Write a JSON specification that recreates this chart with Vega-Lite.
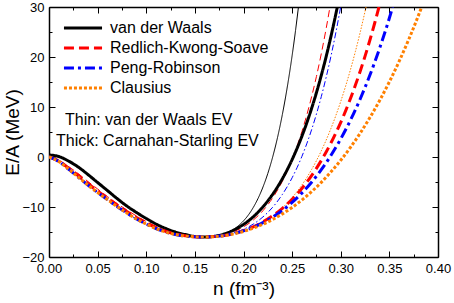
{
  "$schema": "https://vega.github.io/schema/vega-lite/v6.json",
  "width": 389,
  "height": 250,
  "autosize": "none",
  "padding": {"left": 49, "top": 7, "right": 16, "bottom": 46},
  "background": "white",
  "config": {
    "view": {"stroke": null},
    "font": "Liberation Sans",
    "axis": {
      "grid": false,
      "domainColor": "#000000",
      "domainWidth": 1.5,
      "tickColor": "#000000",
      "tickWidth": 1,
      "labelFont": "Liberation Sans",
      "labelFontSize": 13,
      "labelColor": "#000000",
      "labelFlush": false,
      "titleFont": "Liberation Sans",
      "titleFontSize": 19,
      "titleFontWeight": "normal",
      "titleColor": "#000000"
    }
  },
  "datasets": {
    "thick": [
      {"curve":"van der Waals","n":0,"E":0.4},{"curve":"van der Waals","n":0.01,"E":0.1},{"curve":"van der Waals","n":0.02,"E":-0.8},{"curve":"van der Waals","n":0.03,"E":-2.0},{"curve":"van der Waals","n":0.04,"E":-3.5},{"curve":"van der Waals","n":0.05,"E":-5.1},{"curve":"van der Waals","n":0.06,"E":-6.7},{"curve":"van der Waals","n":0.07,"E":-8.3},{"curve":"van der Waals","n":0.08,"E":-9.8},{"curve":"van der Waals","n":0.09,"E":-11.1},{"curve":"van der Waals","n":0.10,"E":-12.3},{"curve":"van der Waals","n":0.11,"E":-13.4},{"curve":"van der Waals","n":0.12,"E":-14.3},{"curve":"van der Waals","n":0.13,"E":-15.0},{"curve":"van der Waals","n":0.14,"E":-15.5},{"curve":"van der Waals","n":0.15,"E":-15.9},{"curve":"van der Waals","n":0.16,"E":-16.0},
      {"curve":"van der Waals","n":0.17,"E":-15.85},{"curve":"van der Waals","n":0.18,"E":-15.4},{"curve":"van der Waals","n":0.19,"E":-14.62},{"curve":"van der Waals","n":0.20,"E":-13.49},{"curve":"van der Waals","n":0.21,"E":-11.96},{"curve":"van der Waals","n":0.22,"E":-9.97},{"curve":"van der Waals","n":0.23,"E":-7.46},{"curve":"van der Waals","n":0.24,"E":-4.34},{"curve":"van der Waals","n":0.245,"E":-2.52},{"curve":"van der Waals","n":0.25,"E":-0.51},{"curve":"van der Waals","n":0.255,"E":1.7},{"curve":"van der Waals","n":0.26,"E":4.13},{"curve":"van der Waals","n":0.265,"E":6.79},{"curve":"van der Waals","n":0.27,"E":9.7},{"curve":"van der Waals","n":0.275,"E":12.87},{"curve":"van der Waals","n":0.28,"E":16.33},{"curve":"van der Waals","n":0.285,"E":20.09},{"curve":"van der Waals","n":0.29,"E":24.18},{"curve":"van der Waals","n":0.2965,"E":30},

      {"curve":"Redlich-Kwong-Soave","n":0,"E":0},{"curve":"Redlich-Kwong-Soave","n":0.01,"E":-0.8},{"curve":"Redlich-Kwong-Soave","n":0.02,"E":-2.2},{"curve":"Redlich-Kwong-Soave","n":0.03,"E":-3.7},{"curve":"Redlich-Kwong-Soave","n":0.04,"E":-5.3},{"curve":"Redlich-Kwong-Soave","n":0.05,"E":-6.8},{"curve":"Redlich-Kwong-Soave","n":0.06,"E":-8.2},{"curve":"Redlich-Kwong-Soave","n":0.07,"E":-9.6},{"curve":"Redlich-Kwong-Soave","n":0.08,"E":-10.9},{"curve":"Redlich-Kwong-Soave","n":0.09,"E":-12.1},{"curve":"Redlich-Kwong-Soave","n":0.10,"E":-13.2},{"curve":"Redlich-Kwong-Soave","n":0.11,"E":-14.1},{"curve":"Redlich-Kwong-Soave","n":0.12,"E":-14.85},{"curve":"Redlich-Kwong-Soave","n":0.13,"E":-15.4},{"curve":"Redlich-Kwong-Soave","n":0.14,"E":-15.75},{"curve":"Redlich-Kwong-Soave","n":0.15,"E":-15.95},{"curve":"Redlich-Kwong-Soave","n":0.16,"E":-16.0},
      {"curve":"Redlich-Kwong-Soave","n":0.17,"E":-15.92},{"curve":"Redlich-Kwong-Soave","n":0.18,"E":-15.69},{"curve":"Redlich-Kwong-Soave","n":0.19,"E":-15.3},{"curve":"Redlich-Kwong-Soave","n":0.20,"E":-14.72},{"curve":"Redlich-Kwong-Soave","n":0.21,"E":-13.96},{"curve":"Redlich-Kwong-Soave","n":0.22,"E":-12.98},{"curve":"Redlich-Kwong-Soave","n":0.23,"E":-11.76},{"curve":"Redlich-Kwong-Soave","n":0.24,"E":-10.26},{"curve":"Redlich-Kwong-Soave","n":0.25,"E":-8.45},{"curve":"Redlich-Kwong-Soave","n":0.26,"E":-6.29},{"curve":"Redlich-Kwong-Soave","n":0.27,"E":-3.72},{"curve":"Redlich-Kwong-Soave","n":0.275,"E":-2.27},{"curve":"Redlich-Kwong-Soave","n":0.28,"E":-0.7},{"curve":"Redlich-Kwong-Soave","n":0.285,"E":1.0},{"curve":"Redlich-Kwong-Soave","n":0.29,"E":2.84},{"curve":"Redlich-Kwong-Soave","n":0.295,"E":4.81},{"curve":"Redlich-Kwong-Soave","n":0.30,"E":6.94},{"curve":"Redlich-Kwong-Soave","n":0.305,"E":9.23},{"curve":"Redlich-Kwong-Soave","n":0.31,"E":11.69},{"curve":"Redlich-Kwong-Soave","n":0.315,"E":14.33},{"curve":"Redlich-Kwong-Soave","n":0.32,"E":17.15},{"curve":"Redlich-Kwong-Soave","n":0.325,"E":20.18},{"curve":"Redlich-Kwong-Soave","n":0.33,"E":23.4},{"curve":"Redlich-Kwong-Soave","n":0.335,"E":26.85},{"curve":"Redlich-Kwong-Soave","n":0.3393,"E":30},

      {"curve":"Peng-Robinson","n":0,"E":0},{"curve":"Peng-Robinson","n":0.01,"E":-0.9},{"curve":"Peng-Robinson","n":0.02,"E":-2.4},{"curve":"Peng-Robinson","n":0.03,"E":-4.0},{"curve":"Peng-Robinson","n":0.04,"E":-5.6},{"curve":"Peng-Robinson","n":0.05,"E":-7.1},{"curve":"Peng-Robinson","n":0.06,"E":-8.5},{"curve":"Peng-Robinson","n":0.07,"E":-9.9},{"curve":"Peng-Robinson","n":0.08,"E":-11.2},{"curve":"Peng-Robinson","n":0.09,"E":-12.4},{"curve":"Peng-Robinson","n":0.10,"E":-13.4},{"curve":"Peng-Robinson","n":0.11,"E":-14.3},{"curve":"Peng-Robinson","n":0.12,"E":-15.0},{"curve":"Peng-Robinson","n":0.13,"E":-15.5},{"curve":"Peng-Robinson","n":0.14,"E":-15.8},{"curve":"Peng-Robinson","n":0.15,"E":-15.95},{"curve":"Peng-Robinson","n":0.16,"E":-16.0},
      {"curve":"Peng-Robinson","n":0.17,"E":-15.92},{"curve":"Peng-Robinson","n":0.18,"E":-15.7},{"curve":"Peng-Robinson","n":0.19,"E":-15.31},{"curve":"Peng-Robinson","n":0.20,"E":-14.77},{"curve":"Peng-Robinson","n":0.21,"E":-14.05},{"curve":"Peng-Robinson","n":0.22,"E":-13.13},{"curve":"Peng-Robinson","n":0.23,"E":-12.02},{"curve":"Peng-Robinson","n":0.24,"E":-10.68},{"curve":"Peng-Robinson","n":0.25,"E":-9.09},{"curve":"Peng-Robinson","n":0.26,"E":-7.22},{"curve":"Peng-Robinson","n":0.27,"E":-5.05},{"curve":"Peng-Robinson","n":0.28,"E":-2.54},{"curve":"Peng-Robinson","n":0.285,"E":-1.15},{"curve":"Peng-Robinson","n":0.29,"E":0.34},{"curve":"Peng-Robinson","n":0.295,"E":1.93},{"curve":"Peng-Robinson","n":0.30,"E":3.63},{"curve":"Peng-Robinson","n":0.305,"E":5.44},{"curve":"Peng-Robinson","n":0.31,"E":7.37},{"curve":"Peng-Robinson","n":0.315,"E":9.42},{"curve":"Peng-Robinson","n":0.32,"E":11.6},{"curve":"Peng-Robinson","n":0.325,"E":13.93},{"curve":"Peng-Robinson","n":0.33,"E":16.39},{"curve":"Peng-Robinson","n":0.335,"E":19.0},{"curve":"Peng-Robinson","n":0.34,"E":21.77},{"curve":"Peng-Robinson","n":0.345,"E":24.69},{"curve":"Peng-Robinson","n":0.35,"E":27.79},{"curve":"Peng-Robinson","n":0.3534,"E":30},

      {"curve":"Clausius","n":0,"E":0},{"curve":"Clausius","n":0.01,"E":-0.9},{"curve":"Clausius","n":0.02,"E":-2.4},{"curve":"Clausius","n":0.03,"E":-4.0},{"curve":"Clausius","n":0.04,"E":-5.6},{"curve":"Clausius","n":0.05,"E":-7.1},{"curve":"Clausius","n":0.06,"E":-8.5},{"curve":"Clausius","n":0.07,"E":-9.9},{"curve":"Clausius","n":0.08,"E":-11.2},{"curve":"Clausius","n":0.09,"E":-12.4},{"curve":"Clausius","n":0.10,"E":-13.4},{"curve":"Clausius","n":0.11,"E":-14.3},{"curve":"Clausius","n":0.12,"E":-15.0},{"curve":"Clausius","n":0.13,"E":-15.5},{"curve":"Clausius","n":0.14,"E":-15.8},{"curve":"Clausius","n":0.15,"E":-15.95},{"curve":"Clausius","n":0.16,"E":-16.0},
      {"curve":"Clausius","n":0.17,"E":-15.93},{"curve":"Clausius","n":0.18,"E":-15.72},{"curve":"Clausius","n":0.19,"E":-15.37},{"curve":"Clausius","n":0.20,"E":-14.88},{"curve":"Clausius","n":0.21,"E":-14.24},{"curve":"Clausius","n":0.22,"E":-13.45},{"curve":"Clausius","n":0.23,"E":-12.49},{"curve":"Clausius","n":0.24,"E":-11.38},{"curve":"Clausius","n":0.25,"E":-10.09},{"curve":"Clausius","n":0.26,"E":-8.61},{"curve":"Clausius","n":0.27,"E":-6.94},{"curve":"Clausius","n":0.28,"E":-5.07},{"curve":"Clausius","n":0.29,"E":-2.97},{"curve":"Clausius","n":0.30,"E":-0.65},{"curve":"Clausius","n":0.31,"E":1.93},{"curve":"Clausius","n":0.32,"E":4.77},{"curve":"Clausius","n":0.33,"E":7.89},{"curve":"Clausius","n":0.34,"E":11.3},{"curve":"Clausius","n":0.35,"E":15.04},{"curve":"Clausius","n":0.36,"E":19.12},{"curve":"Clausius","n":0.37,"E":23.55},{"curve":"Clausius","n":0.38,"E":28.37},{"curve":"Clausius","n":0.3832,"E":30}
    ],
    "thin": [
      {"curve":"van der Waals (thin)","n":0,"E":0.4},{"curve":"van der Waals (thin)","n":0.01,"E":0.1},{"curve":"van der Waals (thin)","n":0.02,"E":-0.8},{"curve":"van der Waals (thin)","n":0.03,"E":-2.0},{"curve":"van der Waals (thin)","n":0.04,"E":-3.5},{"curve":"van der Waals (thin)","n":0.05,"E":-5.1},{"curve":"van der Waals (thin)","n":0.06,"E":-6.7},{"curve":"van der Waals (thin)","n":0.07,"E":-8.3},{"curve":"van der Waals (thin)","n":0.08,"E":-9.8},{"curve":"van der Waals (thin)","n":0.09,"E":-11.1},{"curve":"van der Waals (thin)","n":0.10,"E":-12.3},{"curve":"van der Waals (thin)","n":0.11,"E":-13.4},{"curve":"van der Waals (thin)","n":0.12,"E":-14.3},{"curve":"van der Waals (thin)","n":0.13,"E":-15.0},{"curve":"van der Waals (thin)","n":0.14,"E":-15.5},{"curve":"van der Waals (thin)","n":0.15,"E":-15.9},{"curve":"van der Waals (thin)","n":0.16,"E":-16.0},
      {"curve":"van der Waals (thin)","n":0.17,"E":-15.86},{"curve":"van der Waals (thin)","n":0.18,"E":-15.38},{"curve":"van der Waals (thin)","n":0.19,"E":-14.43},{"curve":"van der Waals (thin)","n":0.20,"E":-12.78},{"curve":"van der Waals (thin)","n":0.205,"E":-11.6},{"curve":"van der Waals (thin)","n":0.21,"E":-10.11},{"curve":"van der Waals (thin)","n":0.215,"E":-8.27},{"curve":"van der Waals (thin)","n":0.22,"E":-6.02},{"curve":"van der Waals (thin)","n":0.225,"E":-3.29},{"curve":"van der Waals (thin)","n":0.23,"E":0.0},{"curve":"van der Waals (thin)","n":0.235,"E":3.91},{"curve":"van der Waals (thin)","n":0.24,"E":8.54},{"curve":"van der Waals (thin)","n":0.245,"E":13.97},{"curve":"van der Waals (thin)","n":0.25,"E":20.28},{"curve":"van der Waals (thin)","n":0.2535,"E":25.29},{"curve":"van der Waals (thin)","n":0.2565,"E":30},

      {"curve":"Redlich-Kwong-Soave (thin)","n":0,"E":0.1},{"curve":"Redlich-Kwong-Soave (thin)","n":0.01,"E":-0.6},{"curve":"Redlich-Kwong-Soave (thin)","n":0.02,"E":-1.9},{"curve":"Redlich-Kwong-Soave (thin)","n":0.03,"E":-3.3},{"curve":"Redlich-Kwong-Soave (thin)","n":0.04,"E":-4.9},{"curve":"Redlich-Kwong-Soave (thin)","n":0.05,"E":-6.4},{"curve":"Redlich-Kwong-Soave (thin)","n":0.06,"E":-7.9},{"curve":"Redlich-Kwong-Soave (thin)","n":0.07,"E":-9.3},{"curve":"Redlich-Kwong-Soave (thin)","n":0.08,"E":-10.6},{"curve":"Redlich-Kwong-Soave (thin)","n":0.09,"E":-11.8},{"curve":"Redlich-Kwong-Soave (thin)","n":0.10,"E":-12.9},{"curve":"Redlich-Kwong-Soave (thin)","n":0.11,"E":-13.9},{"curve":"Redlich-Kwong-Soave (thin)","n":0.12,"E":-14.7},{"curve":"Redlich-Kwong-Soave (thin)","n":0.13,"E":-15.3},{"curve":"Redlich-Kwong-Soave (thin)","n":0.14,"E":-15.7},{"curve":"Redlich-Kwong-Soave (thin)","n":0.15,"E":-15.95},{"curve":"Redlich-Kwong-Soave (thin)","n":0.16,"E":-16.0},
      {"curve":"Redlich-Kwong-Soave (thin)","n":0.17,"E":-15.89},{"curve":"Redlich-Kwong-Soave (thin)","n":0.18,"E":-15.54},{"curve":"Redlich-Kwong-Soave (thin)","n":0.19,"E":-14.93},{"curve":"Redlich-Kwong-Soave (thin)","n":0.20,"E":-13.98},{"curve":"Redlich-Kwong-Soave (thin)","n":0.21,"E":-12.62},{"curve":"Redlich-Kwong-Soave (thin)","n":0.22,"E":-10.74},{"curve":"Redlich-Kwong-Soave (thin)","n":0.23,"E":-8.19},{"curve":"Redlich-Kwong-Soave (thin)","n":0.24,"E":-4.84},{"curve":"Redlich-Kwong-Soave (thin)","n":0.245,"E":-2.81},{"curve":"Redlich-Kwong-Soave (thin)","n":0.25,"E":-0.5},{"curve":"Redlich-Kwong-Soave (thin)","n":0.255,"E":2.11},{"curve":"Redlich-Kwong-Soave (thin)","n":0.26,"E":5.05},{"curve":"Redlich-Kwong-Soave (thin)","n":0.265,"E":8.34},{"curve":"Redlich-Kwong-Soave (thin)","n":0.27,"E":12.02},{"curve":"Redlich-Kwong-Soave (thin)","n":0.275,"E":16.11},{"curve":"Redlich-Kwong-Soave (thin)","n":0.28,"E":20.67},{"curve":"Redlich-Kwong-Soave (thin)","n":0.285,"E":25.71},{"curve":"Redlich-Kwong-Soave (thin)","n":0.2889,"E":30},

      {"curve":"Peng-Robinson (thin)","n":0,"E":0},{"curve":"Peng-Robinson (thin)","n":0.01,"E":-0.9},{"curve":"Peng-Robinson (thin)","n":0.02,"E":-2.4},{"curve":"Peng-Robinson (thin)","n":0.03,"E":-4.0},{"curve":"Peng-Robinson (thin)","n":0.04,"E":-5.6},{"curve":"Peng-Robinson (thin)","n":0.05,"E":-7.1},{"curve":"Peng-Robinson (thin)","n":0.06,"E":-8.5},{"curve":"Peng-Robinson (thin)","n":0.07,"E":-9.9},{"curve":"Peng-Robinson (thin)","n":0.08,"E":-11.2},{"curve":"Peng-Robinson (thin)","n":0.09,"E":-12.4},{"curve":"Peng-Robinson (thin)","n":0.10,"E":-13.4},{"curve":"Peng-Robinson (thin)","n":0.11,"E":-14.3},{"curve":"Peng-Robinson (thin)","n":0.12,"E":-15.0},{"curve":"Peng-Robinson (thin)","n":0.13,"E":-15.5},{"curve":"Peng-Robinson (thin)","n":0.14,"E":-15.8},{"curve":"Peng-Robinson (thin)","n":0.15,"E":-15.95},{"curve":"Peng-Robinson (thin)","n":0.16,"E":-16.0},
      {"curve":"Peng-Robinson (thin)","n":0.17,"E":-15.92},{"curve":"Peng-Robinson (thin)","n":0.18,"E":-15.65},{"curve":"Peng-Robinson (thin)","n":0.19,"E":-15.19},{"curve":"Peng-Robinson (thin)","n":0.20,"E":-14.46},{"curve":"Peng-Robinson (thin)","n":0.21,"E":-13.43},{"curve":"Peng-Robinson (thin)","n":0.22,"E":-11.99},{"curve":"Peng-Robinson (thin)","n":0.23,"E":-10.05},{"curve":"Peng-Robinson (thin)","n":0.24,"E":-7.48},{"curve":"Peng-Robinson (thin)","n":0.25,"E":-4.15},{"curve":"Peng-Robinson (thin)","n":0.255,"E":-2.16},{"curve":"Peng-Robinson (thin)","n":0.26,"E":0.09},{"curve":"Peng-Robinson (thin)","n":0.265,"E":2.62},{"curve":"Peng-Robinson (thin)","n":0.27,"E":5.44},{"curve":"Peng-Robinson (thin)","n":0.275,"E":8.59},{"curve":"Peng-Robinson (thin)","n":0.28,"E":12.08},{"curve":"Peng-Robinson (thin)","n":0.285,"E":15.95},{"curve":"Peng-Robinson (thin)","n":0.29,"E":20.22},{"curve":"Peng-Robinson (thin)","n":0.295,"E":24.93},{"curve":"Peng-Robinson (thin)","n":0.2999,"E":30},

      {"curve":"Clausius (thin)","n":0,"E":0},{"curve":"Clausius (thin)","n":0.01,"E":-0.9},{"curve":"Clausius (thin)","n":0.02,"E":-2.4},{"curve":"Clausius (thin)","n":0.03,"E":-4.0},{"curve":"Clausius (thin)","n":0.04,"E":-5.6},{"curve":"Clausius (thin)","n":0.05,"E":-7.1},{"curve":"Clausius (thin)","n":0.06,"E":-8.5},{"curve":"Clausius (thin)","n":0.07,"E":-9.9},{"curve":"Clausius (thin)","n":0.08,"E":-11.2},{"curve":"Clausius (thin)","n":0.09,"E":-12.4},{"curve":"Clausius (thin)","n":0.10,"E":-13.4},{"curve":"Clausius (thin)","n":0.11,"E":-14.3},{"curve":"Clausius (thin)","n":0.12,"E":-15.0},{"curve":"Clausius (thin)","n":0.13,"E":-15.5},{"curve":"Clausius (thin)","n":0.14,"E":-15.8},{"curve":"Clausius (thin)","n":0.15,"E":-15.95},{"curve":"Clausius (thin)","n":0.16,"E":-16.0},
      {"curve":"Clausius (thin)","n":0.17,"E":-15.93},{"curve":"Clausius (thin)","n":0.18,"E":-15.72},{"curve":"Clausius (thin)","n":0.19,"E":-15.36},{"curve":"Clausius (thin)","n":0.20,"E":-14.82},{"curve":"Clausius (thin)","n":0.21,"E":-14.07},{"curve":"Clausius (thin)","n":0.22,"E":-13.09},{"curve":"Clausius (thin)","n":0.23,"E":-11.8},{"curve":"Clausius (thin)","n":0.24,"E":-10.18},{"curve":"Clausius (thin)","n":0.25,"E":-8.13},{"curve":"Clausius (thin)","n":0.26,"E":-5.61},{"curve":"Clausius (thin)","n":0.265,"E":-4.14},{"curve":"Clausius (thin)","n":0.27,"E":-2.51},{"curve":"Clausius (thin)","n":0.275,"E":-0.73},{"curve":"Clausius (thin)","n":0.28,"E":1.24},{"curve":"Clausius (thin)","n":0.285,"E":3.39},{"curve":"Clausius (thin)","n":0.29,"E":5.75},{"curve":"Clausius (thin)","n":0.295,"E":8.32},{"curve":"Clausius (thin)","n":0.30,"E":11.12},{"curve":"Clausius (thin)","n":0.305,"E":14.17},{"curve":"Clausius (thin)","n":0.31,"E":17.48},{"curve":"Clausius (thin)","n":0.315,"E":21.06},{"curve":"Clausius (thin)","n":0.32,"E":24.94},{"curve":"Clausius (thin)","n":0.326,"E":30}
    ]
  },
  "layer": [
    {
      "data": {"name": "thin"},
      "mark": {"type": "line", "strokeWidth": 1, "interpolate": "monotone", "clip": true},
      "encoding": {
        "x": {"field": "n", "type": "quantitative",
          "scale": {"domain": [0, 0.4], "nice": false},
          "axis": {"orient": "top", "title": null, "labels": false,
            "values": [0,0.025,0.05,0.075,0.1,0.125,0.15,0.175,0.2,0.225,0.25,0.275,0.3,0.325,0.35,0.375,0.4],
            "tickSize": {"condition": {"test": "abs(datum.value*20 - round(datum.value*20)) < 0.001", "value": -6}, "value": -3}}},
        "y": {"field": "E", "type": "quantitative",
          "scale": {"domain": [-20, 30], "nice": false},
          "axis": {"orient": "right", "title": null, "labels": false,
            "values": [-20,-15,-10,-5,0,5,10,15,20,25,30],
            "tickSize": {"condition": {"test": "datum.value % 10 === 0", "value": -6}, "value": -3}}},
        "color": {"field": "curve", "type": "nominal",
          "scale": {"domain": ["van der Waals","Redlich-Kwong-Soave","Peng-Robinson","Clausius","van der Waals (thin)","Redlich-Kwong-Soave (thin)","Peng-Robinson (thin)","Clausius (thin)"],
                    "range": ["#000000","#FF0000","#0000FF","#FF8000","#000000","#FF0000","#0000FF","#FF8000"]},
          "legend": {"values": ["van der Waals","Redlich-Kwong-Soave","Peng-Robinson","Clausius"], "title": null, "orient": "none", "legendX": 26, "legendY": 13, "padding": 0,
            "symbolType": "M-5,0H5", "symbolSize": 58, "symbolStrokeWidth": 3, "labelFont": "Liberation Sans", "labelFontSize": 16, "labelColor": "#000000", "labelOffset": 19, "rowPadding": 4, "labelLimit": 300}},
        "strokeDash": {"field": "curve", "type": "nominal",
          "scale": {"domain": ["van der Waals","Redlich-Kwong-Soave","Peng-Robinson","Clausius","van der Waals (thin)","Redlich-Kwong-Soave (thin)","Peng-Robinson (thin)","Clausius (thin)"],
                    "range": [[1,0],[10,5],[10,4,3,4],[3,2],[1,0],[7,4],[6,2.5,1.5,2.5],[1.5,1.5]]},
          "legend": {"values": ["van der Waals","Redlich-Kwong-Soave","Peng-Robinson","Clausius"], "title": null, "orient": "none", "legendX": 26, "legendY": 13, "padding": 0,
            "symbolType": "M-5,0H5", "symbolSize": 58, "symbolStrokeWidth": 3, "labelFont": "Liberation Sans", "labelFontSize": 16, "labelColor": "#000000", "labelOffset": 19, "rowPadding": 4, "labelLimit": 300}}
      }
    },
    {
      "data": {"name": "thick"},
      "mark": {"type": "line", "strokeWidth": 3, "interpolate": "monotone", "clip": true},
      "encoding": {
        "x": {"field": "n", "type": "quantitative",
          "scale": {"domain": [0, 0.4], "nice": false},
          "axis": {"orient": "bottom", "title": "n (fm⁻³)", "titlePadding": 4,
            "values": [0,0.025,0.05,0.075,0.1,0.125,0.15,0.175,0.2,0.225,0.25,0.275,0.3,0.325,0.35,0.375,0.4],
            "labelExpr": "abs(datum.value*20 - round(datum.value*20)) < 0.001 ? format(datum.value, '.2f') : ''",
            "labelPadding": 11, "labelFlush": false,
            "tickSize": {"condition": {"test": "abs(datum.value*20 - round(datum.value*20)) < 0.001", "value": -6}, "value": -3}}},
        "y": {"field": "E", "type": "quantitative",
          "scale": {"domain": [-20, 30], "nice": false},
          "axis": {"orient": "left", "title": "E/A (MeV)", "titlePadding": -1,
            "values": [-20,-15,-10,-5,0,5,10,15,20,25,30],
            "labelExpr": "datum.value % 10 === 0 ? format(datum.value, 'd') : ''",
            "labelPadding": 11,
            "tickSize": {"condition": {"test": "datum.value % 10 === 0", "value": -6}, "value": -3}}},
        "color": {"field": "curve", "type": "nominal",
          "scale": {"domain": ["van der Waals","Redlich-Kwong-Soave","Peng-Robinson","Clausius","van der Waals (thin)","Redlich-Kwong-Soave (thin)","Peng-Robinson (thin)","Clausius (thin)"],
                    "range": ["#000000","#FF0000","#0000FF","#FF8000","#000000","#FF0000","#0000FF","#FF8000"]},
          "legend": {"values": ["van der Waals","Redlich-Kwong-Soave","Peng-Robinson","Clausius"], "title": null, "orient": "none", "legendX": 26, "legendY": 13, "padding": 0,
            "symbolType": "M-5,0H5", "symbolSize": 58, "symbolStrokeWidth": 3, "labelFont": "Liberation Sans", "labelFontSize": 16, "labelColor": "#000000", "labelOffset": 19, "rowPadding": 4, "labelLimit": 300}},
        "strokeDash": {"field": "curve", "type": "nominal",
          "scale": {"domain": ["van der Waals","Redlich-Kwong-Soave","Peng-Robinson","Clausius","van der Waals (thin)","Redlich-Kwong-Soave (thin)","Peng-Robinson (thin)","Clausius (thin)"],
                    "range": [[1,0],[10,5],[10,4,3,4],[3,2],[1,0],[7,4],[6,2.5,1.5,2.5],[1.5,1.5]]},
          "legend": {"values": ["van der Waals","Redlich-Kwong-Soave","Peng-Robinson","Clausius"], "title": null, "orient": "none", "legendX": 26, "legendY": 13, "padding": 0,
            "symbolType": "M-5,0H5", "symbolSize": 58, "symbolStrokeWidth": 3, "labelFont": "Liberation Sans", "labelFontSize": 16, "labelColor": "#000000", "labelOffset": 19, "rowPadding": 4, "labelLimit": 300}}
      }
    },
    {
      "data": {"values": [{}]},
      "mark": {"type": "text", "text": "Thin: van der Waals EV", "align": "left", "baseline": "alphabetic", "font": "Liberation Sans", "fontSize": 16, "color": "#000000"},
      "encoding": {
        "x": {"datum": 0.0165, "type": "quantitative", "axis": null},
        "y": {"datum": 6.4, "type": "quantitative", "axis": null}
      }
    },
    {
      "data": {"values": [{}]},
      "mark": {"type": "text", "text": "Thick: Carnahan-Starling EV", "align": "left", "baseline": "alphabetic", "font": "Liberation Sans", "fontSize": 16, "color": "#000000"},
      "encoding": {
        "x": {"datum": 0.0072, "type": "quantitative", "axis": null},
        "y": {"datum": 2.2, "type": "quantitative", "axis": null}
      }
    }
  ],
  "resolve": {"axis": {"x": "independent", "y": "independent"}}
}
